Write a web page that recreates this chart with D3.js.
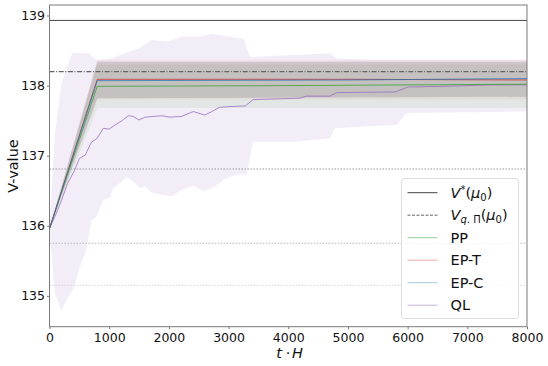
<!DOCTYPE html>
<html>
<head>
<meta charset="utf-8">
<script src="https://cdn.jsdelivr.net/npm/d3@7"></script>
<style>
  body { margin: 0; background: #fff; }
  svg text { font-family: "DejaVu Sans", sans-serif; }
</style>
</head>
<body>
<div id="chart"></div>
<script>
// reference values
const vStar = 138.93;
const vQPi = 138.2;
const otherRefs = [136.81, 135.75, 135.15];
const refColors = ['#999', '#bbb', '#d6d6d6'];

// mean curves [t, value]
const ppMean = [[0, 135.96], [800, 137.99], [4000, 138.0], [6000, 138.01], [8000, 138.02]];
const eptMean = [[0, 135.96], [800, 138.09], [5000, 138.09], [8000, 138.08]];
const epcMean = [[0, 135.96], [800, 138.07], [5000, 138.08], [8000, 138.1]];
const qlMean = [[0, 135.96], [100, 136.15], [200, 136.36], [300, 136.6], [420, 136.79], [500, 136.96],
  [600, 137.01], [700, 137.19], [800, 137.25], [900, 137.39], [1000, 137.38], [1100, 137.44],
  [1200, 137.49], [1320, 137.57], [1400, 137.56], [1500, 137.51], [1600, 137.55], [1880, 137.57],
  [2020, 137.55], [2210, 137.56], [2410, 137.63], [2600, 137.58], [2720, 137.63], [2850, 137.69],
  [3000, 137.7], [3280, 137.71], [3410, 137.8], [4200, 137.82], [4300, 137.85], [4700, 137.85],
  [4810, 137.9], [5790, 137.91], [6010, 137.98], [6600, 137.99], [7430, 138.01], [8000, 138.01]];

// spread bands [t, low, high]
const ppBand = [[0, 135.96, 135.96], [800, 137.68, 138.3], [8000, 137.68, 138.3]];
const eptBand = [[0, 135.96, 135.96], [800, 137.8, 138.37], [8000, 137.8, 138.37]];
const epcBand = [[0, 135.96, 135.96], [800, 137.82, 138.34], [8000, 137.84, 138.34]];
const qlUpper = [[0, 135.96], [90, 137.3], [200, 138.04], [380, 138.46], [650, 138.46], [740, 138.39],
  [800, 138.36], [1040, 138.39], [1265, 138.46], [1490, 138.53], [1710, 138.65], [1990, 138.63],
  [2210, 138.7], [2550, 138.7], [2700, 138.74], [3250, 138.67], [3360, 138.41], [4200, 138.44],
  [4700, 138.46], [4810, 138.39], [5370, 138.37], [8000, 138.37]];
const qlLower = [[0, 135.96], [90, 135.04], [200, 134.78], [290, 134.95], [400, 135.09], [510, 135.42],
  [620, 135.66], [700, 136.08], [790, 136.13], [900, 136.37], [1010, 136.4], [1070, 136.54],
  [1180, 136.61], [1290, 136.7], [1400, 136.63], [1520, 136.54], [1600, 136.56], [1710, 136.48],
  [1880, 136.44], [2050, 136.42], [2210, 136.51], [2410, 136.57], [2580, 136.49], [2770, 136.56],
  [2970, 136.68], [3140, 136.73], [3300, 136.73], [3410, 137.2], [4110, 137.2], [4700, 137.25],
  [4780, 137.39], [5820, 137.44], [5980, 137.61], [8000, 137.63]];

const xTicks = [0, 1000, 2000, 3000, 4000, 5000, 6000, 7000, 8000];
const yTicks = [135, 136, 137, 138, 139];

const width = 548, height = 366;
const margin = { top: 5, right: 21, bottom: 39.3, left: 49.5 };

const svg = d3.select('#chart').append('svg')
  .attr('width', width)
  .attr('height', height);

const x = d3.scaleLinear().domain([0, 8000]).range([margin.left, width - margin.right]);
const y = d3.scaleLinear().domain([134.56, 139.15]).range([height - margin.bottom, margin.top]);

const line = d3.line().x(d => x(d[0])).y(d => y(d[1]));
const area = d3.area().x(d => x(d[0])).y0(d => y(d[1])).y1(d => y(d[2]));

const plot = svg.append('g');

// QL band: upper edge then lower edge reversed
plot.append('path')
  .attr('d', line(qlUpper.concat(qlLower.slice().reverse())) + 'Z')
  .attr('fill', '#9467bd')
  .attr('fill-opacity', 0.12);

plot.append('path').attr('d', area(ppBand)).attr('fill', '#2ca02c').attr('fill-opacity', 0.08);
plot.append('path').attr('d', area(eptBand)).attr('fill', '#d62728').attr('fill-opacity', 0.06);
plot.append('path').attr('d', area(epcBand)).attr('fill', '#7f7f7f').attr('fill-opacity', 0.28);

// reference lines
otherRefs.forEach((v, i) => {
  plot.append('line')
    .attr('x1', x(0)).attr('x2', x(8000))
    .attr('y1', y(v)).attr('y2', y(v))
    .attr('stroke', refColors[i])
    .attr('stroke-width', 1)
    .attr('stroke-dasharray', '1.5,1.5');
});

plot.append('line')
  .attr('x1', x(0)).attr('x2', x(8000))
  .attr('y1', y(vQPi)).attr('y2', y(vQPi))
  .attr('stroke', '#666').attr('stroke-width', 1.1)
  .attr('stroke-dasharray', '5,1.6,1,1.6');

plot.append('line')
  .attr('x1', x(0)).attr('x2', x(8000))
  .attr('y1', y(vStar)).attr('y2', y(vStar))
  .attr('stroke', '#444').attr('stroke-width', 1);

// mean curves
const series = [
  { data: qlMean, color: '#9467bd' },
  { data: ppMean, color: '#2ca02c' },
  { data: eptMean, color: '#d62728' },
  { data: epcMean, color: '#1f77b4' }
];
series.forEach(s => {
  plot.append('path')
    .attr('d', line(s.data))
    .attr('fill', 'none')
    .attr('stroke', s.color)
    .attr('stroke-opacity', 0.75)
    .attr('stroke-width', 1);
});

// axes
const xAxis = svg.append('g')
  .attr('transform', `translate(0,${height - margin.bottom})`)
  .call(d3.axisBottom(x).tickValues(xTicks).tickSize(2.5).tickPadding(3.5).tickFormat(d3.format('d')));
const yAxis = svg.append('g')
  .attr('transform', `translate(${margin.left},0)`)
  .call(d3.axisLeft(y).tickValues(yTicks).tickSize(2.5).tickPadding(2).tickFormat(d3.format('d')));

[xAxis, yAxis].forEach(a => {
  a.select('.domain').remove();
  a.selectAll('.tick line').attr('stroke', '#777');
  a.selectAll('.tick text').attr('fill', '#111').style('font-size', '12.5px');
});

// frame
svg.append('rect')
  .attr('x', margin.left).attr('y', margin.top)
  .attr('width', width - margin.left - margin.right)
  .attr('height', height - margin.top - margin.bottom)
  .attr('fill', 'none').attr('stroke', '#7a7a7a').attr('stroke-width', 1);

// axis labels
svg.append('text')
  .attr('transform', `translate(18,166) rotate(-90)`)
  .attr('text-anchor', 'middle')
  .style('font-size', '14.5px')
  .attr('fill', '#111')
  .text('V-value');

// t · H, as three separate pieces
[['t', 279, true], ['·', 288, false], ['H', 297.5, true]].forEach(([s, px, it]) => {
  svg.append('text')
    .attr('x', px).attr('y', 358)
    .attr('text-anchor', 'middle')
    .style('font-size', '14.5px')
    .style('font-style', it ? 'italic' : 'normal')
    .attr('fill', '#111')
    .text(s);
});

// legend
const lg = svg.append('g');
lg.append('rect')
  .attr('x', 401.5).attr('y', 178.5)
  .attr('width', 117).attr('height', 140)
  .attr('rx', 3)
  .attr('fill', '#fff').attr('fill-opacity', 0.8)
  .attr('stroke', '#ddd');

const legendItems = [
  { key: 'vstar', color: '#444', dash: null, alpha: 1 },
  { key: 'vq', color: '#666', dash: '3,1.5', alpha: 1 },
  { key: 'PP', color: '#2ca02c', dash: null, alpha: 0.5 },
  { key: 'EP-T', color: '#d62728', dash: null, alpha: 0.4 },
  { key: 'EP-C', color: '#1f77b4', dash: null, alpha: 0.4 },
  { key: 'QL', color: '#9467bd', dash: null, alpha: 0.5 }
];
legendItems.forEach((it, i) => {
  const cy = 192.7 + i * 22.5;
  lg.append('line')
    .attr('x1', 407.5).attr('x2', 437.5)
    .attr('y1', cy).attr('y2', cy)
    .attr('stroke', it.color)
    .attr('stroke-opacity', it.alpha)
    .attr('stroke-dasharray', it.dash)
    .attr('stroke-width', 1);
  const t = lg.append('text')
    .attr('x', 450.5).attr('y', cy + 5)
    .style('font-size', '14.5px')
    .attr('fill', '#111');
  if (it.key === 'vstar') {
    t.append('tspan').style('font-style', 'italic').text('V');
    t.append('tspan').attr('dy', -5).style('font-size', '10px').text('*');
    t.append('tspan').attr('dy', 5).text('(');
    t.append('tspan').style('font-style', 'italic').text('μ');
    t.append('tspan').attr('dy', 3).style('font-size', '10px').text('0');
    t.append('tspan').attr('dy', -3).text(')');
  } else if (it.key === 'vq') {
    t.append('tspan').style('font-style', 'italic').text('V');
    t.append('tspan').attr('dy', 3).style('font-size', '10px').style('font-style', 'italic').text('q');
    t.append('tspan').style('font-size', '10px').text('. Π');
    t.append('tspan').attr('dy', -3).text('(');
    t.append('tspan').style('font-style', 'italic').text('μ');
    t.append('tspan').attr('dy', 3).style('font-size', '10px').text('0');
    t.append('tspan').attr('dy', -3).text(')');
  } else {
    t.text(it.key);
  }
});
</script>
</body>
</html>
